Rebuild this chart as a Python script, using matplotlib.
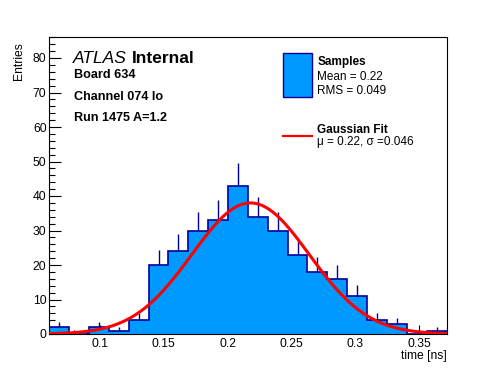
import numpy as np
import matplotlib
matplotlib.use("Agg")
import matplotlib.pyplot as plt
from matplotlib.ticker import MultipleLocator

plt.rcParams['font.family'] = ['Liberation Sans', 'DejaVu Sans']

# histogram data (20 bins)
counts = [2, 0, 2, 1, 4, 20, 24, 30, 33, 43, 34, 30, 23, 18, 16, 11, 4, 3, 0, 1]
x_range = [0.0603, 0.3716]
y_max = 86

# gaussian fit parameters
fit_amp = 38.0
fit_mu = 0.218
fit_sigma = 0.046

header_lines = ["Board 634", "Channel 074 lo", "Run 1475 A=1.2"]
legend_stats = ["Mean = 0.22", "RMS = 0.049"]
fit_label = "\u03bc = 0.22, \u03c3 =0.046"

W, H = 496, 372
fill_col = "#0099ff"
edge_col = "#000099"


def fx(px):
    return px / W


def fy(py):
    return 1 - py / H


fig = plt.figure(figsize=(W / 100, H / 100), dpi=100)
ax = fig.add_axes([fx(49.3), fy(334), (446.5 - 49.3) / W, (334 - 37.3) / H])

counts = np.asarray(counts, dtype=float)
edges = np.linspace(x_range[0], x_range[1], len(counts) + 1)
centers = 0.5 * (edges[:-1] + edges[1:])

# upper error bars (lower half hidden by the fill)
errs = np.sqrt(counts)
mask = counts > 0
ax.vlines(centers[mask], counts[mask], counts[mask] + errs[mask],
          colors=edge_col, linewidth=1.0, zorder=1)

ax.stairs(counts, edges, fill=True, facecolor=fill_col, edgecolor="none", zorder=2)
ax.stairs(counts, edges, baseline=0, color=edge_col, linewidth=1.2, zorder=3)

xs = np.linspace(x_range[0], x_range[1], 100)
ys = fit_amp * np.exp(-0.5 * ((xs - fit_mu) / fit_sigma) ** 2)
ax.plot(xs, ys, color="red", linewidth=2.2, zorder=4)

ax.set_xlim(x_range)
ax.set_ylim(0, y_max)
ax.xaxis.set_major_locator(MultipleLocator(0.05))
ax.xaxis.set_minor_locator(MultipleLocator(0.01))
ax.yaxis.set_major_locator(MultipleLocator(10))
ax.yaxis.set_minor_locator(MultipleLocator(2))
ax.xaxis.set_major_formatter(plt.FuncFormatter(lambda v, p: ("%.2f" % v).rstrip("0")))
ax.tick_params(which="both", direction="in", top=False, right=False,
               labelsize=8.7, width=0.8)
ax.tick_params(axis="x", which="major", length=6.6, pad=3)
ax.tick_params(axis="x", which="minor", length=3.2)
ax.tick_params(axis="y", which="major", length=8.6, pad=2)
ax.tick_params(axis="y", which="minor", length=4.3)
for s in ax.spines.values():
    s.set_linewidth(0.8)

fig.text(fx(446.5), fy(358.5), "time [ns]", ha="right", va="baseline", fontsize=8.7)
fig.text(fx(19), fy(42), "Entries", rotation=90, ha="center", va="top", fontsize=8.7)

# ATLAS label
fig.text(fx(73.3), fy(63), "ATLAS", style="italic", fontsize=12.5, va="baseline")
fig.text(fx(131.5), fy(63), "Internal", weight="bold", fontsize=12.5, va="baseline")
for i, line in enumerate(header_lines):
    fig.text(fx(74), fy(78.5 + 21 * i), line, weight="bold", fontsize=9.1,
             va="baseline")

# legend
fig.patches.append(plt.Rectangle((fx(283.3), fy(96.7)), (311.7 - 283.3) / W,
                                 (96.7 - 53.3) / H, transform=fig.transFigure,
                                 facecolor=fill_col, edgecolor=edge_col, linewidth=1.0))
fig.text(fx(317.3), fy(65.3), "Samples", weight="bold", fontsize=8.5, va="baseline")
fig.text(fx(317.3), fy(80), legend_stats[0], fontsize=8.5, va="baseline")
fig.text(fx(317.3), fy(94), legend_stats[1], fontsize=8.5, va="baseline")
fig.lines.append(plt.Line2D([fx(283.3), fx(311.7)], [fy(136), fy(136)],
                            transform=fig.transFigure, color="red", linewidth=1.6))
fig.text(fx(317.3), fy(133.3), "Gaussian Fit", weight="bold", fontsize=8.5, va="baseline")
fig.text(fx(317.3), fy(145), fit_label, fontsize=8.5, va="baseline")

fig.savefig("out.png", dpi=100)
